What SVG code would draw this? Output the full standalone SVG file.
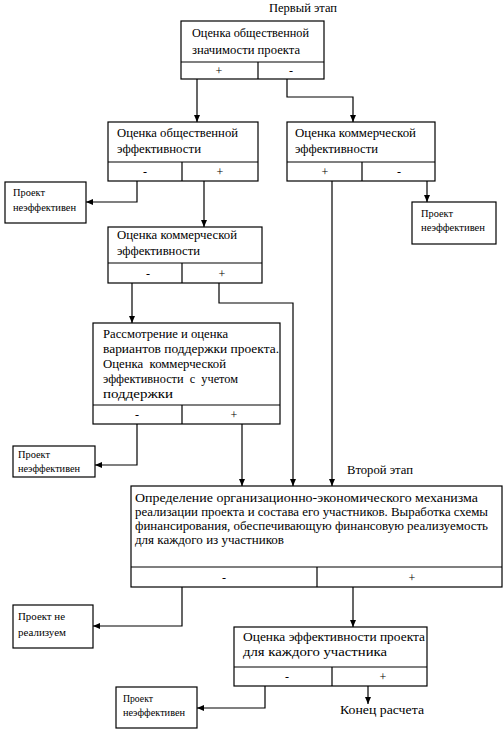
<svg xmlns="http://www.w3.org/2000/svg" width="504" height="734" viewBox="0 0 504 734">
<style>
.b{fill:#fff;stroke:#000;stroke-width:1.2}
.l{fill:none;stroke:#000;stroke-width:1.2}
.c{fill:none;stroke:#000;stroke-width:1.2;marker-end:url(#ah)}
text{fill:#000;white-space:pre}
.t{font-size:12.5px}
.s{font-size:10px}
.m{font-size:13px}
.pm{font-size:12px;text-anchor:middle}
</style>
<defs>
<marker id="ah" markerUnits="userSpaceOnUse" markerWidth="8" markerHeight="8" refX="7" refY="4" orient="auto">
<path d="M0,1 L7,4 L0,7 Z" fill="#000"/>
</marker>
</defs>
<g font-family="'Liberation Serif', 'Times New Roman', serif" lengthAdjust="spacingAndGlyphs">
<text class="t" x="269" y="12" textLength="68" lengthAdjust="spacingAndGlyphs">Первый этап</text>
<text class="t" x="347" y="474" textLength="66" lengthAdjust="spacingAndGlyphs">Второй этап</text>

<g id="n1">
<rect class="b" x="181" y="21" width="143" height="58"/>
<path class="l" d="M181,62 H324 M258,62 V79"/>
<text class="t" x="192" y="37" textLength="117" lengthAdjust="spacingAndGlyphs">Оценка общественной</text>
<text class="t" x="192" y="54" textLength="108" lengthAdjust="spacingAndGlyphs">значимости проекта</text>
<text class="pm" x="219" y="75">+</text>
<text class="pm" x="291" y="75">-</text>
</g>

<g id="n2">
<rect class="b" x="108" y="122" width="150" height="59"/>
<path class="l" d="M108,162 H258 M182,162 V181"/>
<text class="t" x="117" y="137" textLength="121" lengthAdjust="spacingAndGlyphs">Оценка общественной</text>
<text class="t" x="117" y="153" textLength="84" lengthAdjust="spacingAndGlyphs">эффективности</text>
<text class="pm" x="145" y="176">-</text>
<text class="pm" x="220" y="176">+</text>
</g>

<g id="n3">
<rect class="b" x="287" y="122" width="148" height="59"/>
<path class="l" d="M287,162 H435 M362,162 V181"/>
<text class="t" x="295" y="137" textLength="121" lengthAdjust="spacingAndGlyphs">Оценка коммерческой</text>
<text class="t" x="295" y="153" textLength="83" lengthAdjust="spacingAndGlyphs">эффективности</text>
<text class="pm" x="325" y="176">+</text>
<text class="pm" x="399" y="176">-</text>
</g>

<g id="n4">
<rect class="b" x="5" y="182" width="81" height="41"/>
<text class="s" x="13" y="196" textLength="32" lengthAdjust="spacingAndGlyphs">Проект</text>
<text class="s" x="13" y="211" textLength="63" lengthAdjust="spacingAndGlyphs">неэффективен</text>
</g>

<g id="n5">
<rect class="b" x="412" y="202" width="84" height="42"/>
<text class="s" x="421" y="217" textLength="32" lengthAdjust="spacingAndGlyphs">Проект</text>
<text class="s" x="421" y="231" textLength="64" lengthAdjust="spacingAndGlyphs">неэффективен</text>
</g>

<g id="n6">
<rect class="b" x="108" y="227" width="154" height="56"/>
<path class="l" d="M108,263 H262 M182,263 V283"/>
<text class="t" x="117" y="239" textLength="120" lengthAdjust="spacingAndGlyphs">Оценка коммерческой</text>
<text class="t" x="117" y="255" textLength="83" lengthAdjust="spacingAndGlyphs">эффективности</text>
<text class="pm" x="148" y="278">-</text>
<text class="pm" x="222" y="278">+</text>
</g>

<g id="n7">
<rect class="b" x="93" y="323" width="187" height="101"/>
<path class="l" d="M93,405 H280 M182,405 V424"/>
<text class="t" x="103" y="338" textLength="125" lengthAdjust="spacingAndGlyphs">Рассмотрение и оценка</text>
<text class="t" x="103" y="353" textLength="176" lengthAdjust="spacingAndGlyphs">вариантов поддержки проекта.</text>
<text class="t" x="103" y="368" textLength="123" lengthAdjust="spacingAndGlyphs">Оценка  коммерческой</text>
<text class="t" x="103" y="383" textLength="135" lengthAdjust="spacingAndGlyphs">эффективности  с  учетом</text>
<text class="t" x="103" y="398" textLength="70" lengthAdjust="spacingAndGlyphs">поддержки</text>
<text class="pm" x="137" y="419">-</text>
<text class="pm" x="234" y="419">+</text>
</g>

<g id="n8">
<rect class="b" x="13" y="446" width="82" height="31"/>
<text class="s" x="18" y="458" textLength="32" lengthAdjust="spacingAndGlyphs">Проект</text>
<text class="s" x="18" y="472" textLength="62" lengthAdjust="spacingAndGlyphs">неэффективен</text>
</g>

<g id="n9">
<rect class="b" x="131" y="486" width="371" height="101"/>
<path class="l" d="M131,567 H502 M317,567 V587"/>
<text class="m" x="135" y="502" textLength="343" lengthAdjust="spacingAndGlyphs">Определение организационно-экономического механизма</text>
<text class="m" x="135" y="516" textLength="353" lengthAdjust="spacingAndGlyphs">реализации проекта и состава его участников. Выработка схемы</text>
<text class="m" x="135" y="530" textLength="353" lengthAdjust="spacingAndGlyphs">финансирования, обеспечивающую финансовую реализуемость</text>
<text class="m" x="135" y="544" textLength="149" lengthAdjust="spacingAndGlyphs">для каждого из участников</text>
<text class="pm" x="224" y="582">-</text>
<text class="pm" x="412" y="582">+</text>
</g>

<g id="n10">
<rect class="b" x="13" y="605" width="80" height="43"/>
<text class="s" x="18" y="620" textLength="47" lengthAdjust="spacingAndGlyphs">Проект не</text>
<text class="s" x="18" y="636" textLength="48" lengthAdjust="spacingAndGlyphs">реализуем</text>
</g>

<g id="n11">
<rect class="b" x="234" y="627" width="193" height="59"/>
<path class="l" d="M234,667 H427 M332,667 V686"/>
<text class="t" x="243" y="641" textLength="182" lengthAdjust="spacingAndGlyphs">Оценка эффективности проекта</text>
<text class="t" x="243" y="656" textLength="144" lengthAdjust="spacingAndGlyphs">для каждого участника</text>
<text class="pm" x="287" y="681">-</text>
<text class="pm" x="383" y="681">+</text>
</g>

<g id="n12">
<rect class="b" x="116" y="687" width="81" height="41"/>
<text class="s" x="123" y="702" textLength="30" lengthAdjust="spacingAndGlyphs">Проект</text>
<text class="s" x="123" y="716" textLength="62" lengthAdjust="spacingAndGlyphs">неэффективен</text>
</g>

<g id="n13">
<text class="t" x="340" y="714" style="font-size:13px" textLength="84" lengthAdjust="spacingAndGlyphs">Конец расчета</text>
</g>
</g>

<g id="connectors">
<path class="c" d="M197,79 V122"/>
<path class="c" d="M287,79 V97 H353 V122"/>
<path class="c" d="M137,181 V202 H86"/>
<path class="c" d="M204,181 V227"/>
<path class="c" d="M427,181 V202"/>
<path class="c" d="M332,181 V486"/>
<path class="c" d="M132,283 V323"/>
<path class="c" d="M219,283 V303 H293 V486"/>
<path class="c" d="M137,424 V465 H95"/>
<path class="c" d="M242,424 V486"/>
<path class="c" d="M182,587 V626 H93"/>
<path class="c" d="M353,587 V627"/>
<path class="c" d="M265,686 V708 H197"/>
<path class="c" d="M368,686 V704"/>
</g>
</svg>
